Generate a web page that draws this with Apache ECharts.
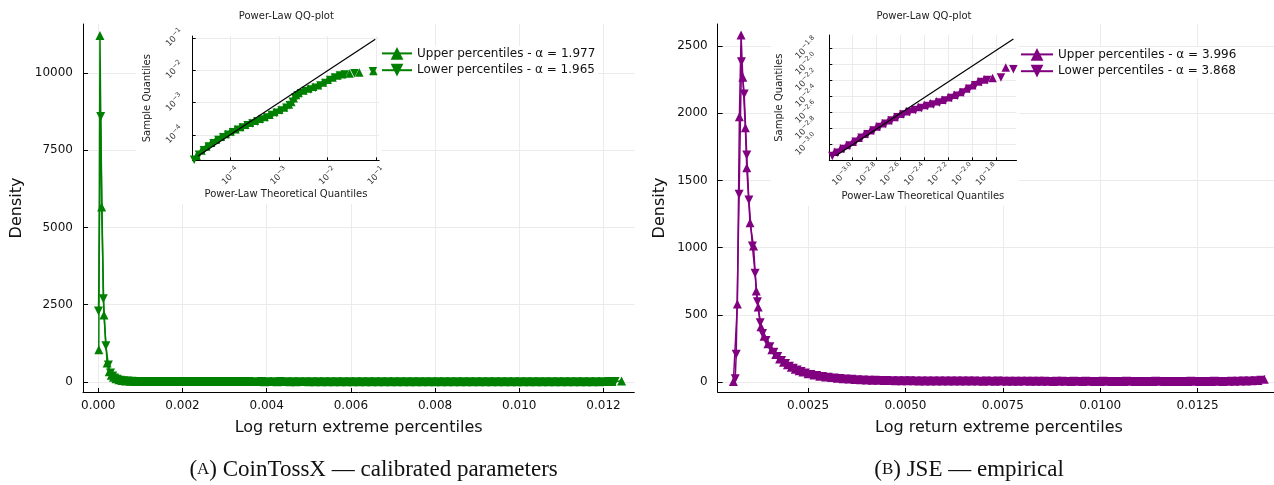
<!DOCTYPE html>
<html>
<head>
<meta charset="utf-8">
<title>Extreme percentiles density</title>
<script src="https://cdn.jsdelivr.net/npm/echarts@6/dist/echarts.min.js"></script>
<style>
  html, body { margin: 0; padding: 0; background: #fff; }
  #chart { width: 1274px; height: 485px; }
</style>
</head>
<body>
<div id="chart"></div>
<script>
// ---- left panel: CoinTossX, density of extreme percentiles
const leftUpperX = [0.000012, 0.00004, 0.00008, 0.000135, 0.00021, 0.00026, 0.00031, 0.00036, 0.00042, 0.00049, 0.00056, 0.00065, 0.00075, 0.00086, 0.00097,
  0.0011, 0.00125, 0.0014, 0.00155, 0.0017, 0.00185, 0.002, 0.00215, 0.0023, 0.00245,
  0.0026, 0.00275, 0.0029, 0.00305, 0.0032, 0.00335, 0.0035, 0.00365, 0.0038, 0.00395,
  0.0041, 0.00425, 0.0044, 0.00455, 0.0047, 0.00485, 0.005, 0.00515, 0.0053, 0.00545,
  0.0056, 0.00575, 0.0059, 0.00605, 0.0062, 0.00635, 0.0065, 0.00665, 0.0068, 0.00695,
  0.0071, 0.00725, 0.0074, 0.00755, 0.0077, 0.00785, 0.008, 0.00815, 0.0083, 0.00845,
  0.0086, 0.00875, 0.0089, 0.00905, 0.0092, 0.00935, 0.0095, 0.00965, 0.0098, 0.00995,
  0.0101, 0.01025, 0.0104, 0.01055, 0.0107, 0.01085, 0.011, 0.01115, 0.0113, 0.01145,
  0.0116, 0.01175, 0.0119, 0.01205, 0.0122, 0.01243]
const leftUpperY = [1040, 11210, 5660, 2170, 615, 330, 215, 150, 105, 70, 45, 30, 22, 18, 17,
  16, 15, 15, 14, 15, 14, 14, 13, 14, 13,
  13, 13, 12, 13, 12, 12, 13, 12, 12, 11,
  12, 11, 12, 11, 11, 12, 11, 11, 10, 11,
  11, 10, 11, 10, 10, 11, 10, 10, 11, 10,
  10, 10, 9, 10, 10, 9, 10, 10, 9, 10,
  9, 9, 10, 9, 9, 10, 9, 9, 10, 9,
  9, 10, 9, 9, 10, 9, 9, 10, 9, 10,
  10, 11, 11, 13, 18, 35]
const leftLowerX = [0.000005, 0.000057, 0.00012, 0.00018, 0.00024, 0.00029, 0.00034, 0.00039, 0.00045, 0.00052, 0.0006, 0.0007, 0.0008, 0.00092, 0.00104,
  0.001175, 0.001325, 0.001475, 0.001625, 0.001775, 0.001925, 0.002075, 0.002225, 0.002375, 0.002525,
  0.002675, 0.002825, 0.002975, 0.003125, 0.003275, 0.003425, 0.003575, 0.003725, 0.003875, 0.004025,
  0.004175, 0.004325, 0.004475, 0.004625, 0.004775, 0.004925, 0.005075, 0.005225, 0.005375, 0.005525,
  0.005675, 0.005825, 0.005975, 0.006125, 0.006275, 0.006425, 0.006575, 0.006725, 0.006875, 0.007025,
  0.007175, 0.007325, 0.007475, 0.007625, 0.007775, 0.007925, 0.008075, 0.008225, 0.008375, 0.008525,
  0.008675, 0.008825, 0.008975, 0.009125, 0.009275, 0.009425, 0.009575, 0.009725, 0.009875, 0.010025,
  0.010175, 0.010325, 0.010475, 0.010625, 0.010775, 0.010925, 0.011075, 0.011225, 0.011375, 0.011525,
  0.011675, 0.011825, 0.011975, 0.012125, 0.012275]
const leftLowerY = [2300, 8590, 2690, 1175, 550, 290, 190, 130, 90, 60, 40, 28, 20, 17, 16,
  16, 15, 15, 14, 14, 14, 13, 14, 13, 13,
  12, 13, 12, 12, 12, 13, 12, 11, 12, 11,
  11, 12, 11, 11, 11, 10, 11, 11, 10, 11,
  10, 10, 11, 10, 10, 10, 9, 10, 10, 10,
  9, 10, 10, 9, 10, 9, 9, 10, 9, 10,
  9, 9, 9, 10, 9, 9, 10, 9, 9, 9,
  10, 9, 9, 10, 9, 9, 9, 10, 9, 10,
  10, 10, 11, 12, 16]

// ---- right panel: JSE empirical
const rightUpperX = [0.000583, 0.000685, 0.000737, 0.00078, 0.000824, 0.00089, 0.000926, 0.00101, 0.0011, 0.00117, 0.00122, 0.00129,
  0.00137, 0.00147, 0.00157, 0.00167, 0.00177, 0.00187, 0.00197, 0.00207, 0.00217, 0.00227, 0.00237, 0.0025, 0.00265, 0.0028,
  0.00295, 0.0031, 0.00325, 0.0034, 0.00355, 0.0037, 0.00385, 0.004, 0.00415, 0.0043, 0.00445, 0.0046, 0.00475,
  0.0049, 0.00505, 0.0052, 0.00535, 0.0055, 0.00565, 0.0058, 0.00595, 0.0061, 0.00625,
  0.0064, 0.00655, 0.0067, 0.00685, 0.007, 0.00715, 0.0073, 0.00745, 0.0076, 0.00775,
  0.0079, 0.00805, 0.0082, 0.00835, 0.0085, 0.00865, 0.0088, 0.00895, 0.0091, 0.00925,
  0.0094, 0.00955, 0.0097, 0.00985, 0.01, 0.01015, 0.0103, 0.01045, 0.0106, 0.01075,
  0.0109, 0.01105, 0.0112, 0.01135, 0.0115, 0.01165, 0.0118, 0.01195, 0.0121, 0.01225,
  0.0124, 0.01255, 0.0127, 0.01285, 0.013, 0.01315, 0.0133, 0.01345, 0.0136, 0.01375,
  0.0139, 0.01405, 0.01421]
const rightUpperY = [5, 580, 1974, 2582, 2267, 1892, 1594, 1185, 1012, 677, 558, 411,
  340, 285, 240, 205, 172, 148, 128, 110, 96, 84, 74, 62, 52, 44,
  38, 33, 29, 25, 22, 19, 17, 15, 14, 13, 12, 11, 10,
  9, 9, 9, 8, 8, 8, 8, 7, 8, 7,
  7, 7, 7, 7, 6, 7, 6, 7, 6, 6,
  6, 7, 6, 6, 6, 6, 5, 6, 6, 5,
  6, 5, 6, 5, 5, 6, 5, 5, 5, 6,
  5, 5, 5, 5, 6, 5, 5, 5, 5, 5,
  6, 5, 5, 5, 6, 5, 6, 6, 7, 8,
  9, 12, 20]
const rightLowerX = [0.00063, 0.000655, 0.00073, 0.00079, 0.00086, 0.000926, 0.00098, 0.00107, 0.00114, 0.0012, 0.00127, 0.00133,
  0.00142, 0.00152, 0.00162, 0.00172, 0.00182, 0.00192, 0.00202, 0.00212, 0.00222, 0.00232, 0.00243, 0.00257, 0.00272, 0.00287,
  0.00302, 0.00317, 0.00332, 0.00347, 0.00362, 0.00377, 0.00392, 0.00407, 0.00422, 0.00437, 0.00452, 0.00467, 0.00482,
  0.004975, 0.005125, 0.005275, 0.005425, 0.005575, 0.005725, 0.005875, 0.006025, 0.006175, 0.006325,
  0.006475, 0.006625, 0.006775, 0.006925, 0.007075, 0.007225, 0.007375, 0.007525, 0.007675, 0.007825,
  0.007975, 0.008125, 0.008275, 0.008425, 0.008575, 0.008725, 0.008875, 0.009025, 0.009175, 0.009325,
  0.009475, 0.009625, 0.009775, 0.009925, 0.010075, 0.010225, 0.010375, 0.010525, 0.010675, 0.010825,
  0.010975, 0.011125, 0.011275, 0.011425, 0.011575, 0.011725, 0.011875, 0.012025, 0.012175, 0.012325,
  0.012475, 0.012625, 0.012775, 0.012925, 0.013075, 0.013225, 0.013375, 0.013525, 0.013675, 0.013825,
  0.013975, 0.014125]
const rightLowerY = [25, 206, 1397, 2383, 2143, 1689, 1354, 1012, 809, 597, 441, 362,
  310, 262, 222, 190, 160, 138, 118, 103, 90, 79, 68, 57, 48, 41,
  35, 31, 27, 23, 20, 18, 16, 14, 13, 12, 11, 10, 10,
  9, 9, 8, 8, 8, 8, 7, 8, 7, 7,
  7, 7, 7, 6, 7, 6, 7, 6, 6, 6,
  6, 6, 6, 6, 6, 5, 6, 6, 5, 6,
  5, 6, 5, 5, 6, 5, 5, 5, 6, 5,
  5, 5, 5, 6, 5, 5, 5, 5, 5, 6,
  5, 5, 5, 6, 5, 5, 6, 6, 7, 8,
  10, 14]

// ---- QQ insets, log10 of quantiles
const qqLeftUpperX = [-4.70, -4.60, -4.50, -4.40, -4.30, -4.20, -4.10, -4.00, -3.90, -3.80, -3.70, -3.60, -3.50, -3.40, -3.30, -3.20, -3.10, -3.00,
  -2.90, -2.80, -2.75, -2.70, -2.65, -2.60, -2.50, -2.40, -2.30, -2.20, -2.10, -2.00, -1.90, -1.80, -1.70, -1.55, -1.35, -1.06]
const qqLeftUpperY = [-4.64, -4.48, -4.35, -4.24, -4.14, -4.05, -3.97, -3.89, -3.82, -3.75, -3.68, -3.62, -3.56, -3.50, -3.44, -3.37, -3.29, -3.22,
  -3.15, -3.06, -2.98, -2.86, -2.76, -2.70, -2.62, -2.56, -2.51, -2.46, -2.38, -2.29, -2.22, -2.16, -2.12, -2.10, -2.07, -2.02]
const qqLeftLowerX = [-4.75, -4.65, -4.55, -4.45, -4.35, -4.25, -4.15, -4.05, -3.95, -3.85, -3.75, -3.65, -3.55, -3.45, -3.35, -3.25, -3.15, -3.05,
  -2.95, -2.85, -2.78, -2.72, -2.67, -2.62, -2.55, -2.45, -2.35, -2.25, -2.15, -2.05, -1.95, -1.85, -1.75, -1.65, -1.45, -1.07]
const qqLeftLowerY = [-4.76, -4.61, -4.47, -4.35, -4.25, -4.15, -4.07, -3.99, -3.91, -3.84, -3.77, -3.70, -3.64, -3.58, -3.52, -3.46, -3.38, -3.31,
  -3.24, -3.16, -3.08, -2.97, -2.85, -2.78, -2.71, -2.64, -2.59, -2.54, -2.47, -2.39, -2.30, -2.22, -2.16, -2.13, -2.09, -2.03]
const qqLeftLineX = [-4.67, -1.02]
const qqLeftLineY = [-4.65, -1.04]

const qqRightUpperX = [-3.15, -3.10, -3.05, -3.00, -2.95, -2.90, -2.85, -2.80, -2.75, -2.70, -2.65, -2.60, -2.55, -2.50, -2.45, -2.40,
  -2.35, -2.30, -2.25, -2.20, -2.15, -2.10, -2.05, -2.00, -1.95, -1.90, -1.83, -1.72]
const qqRightUpperY = [-3.09, -3.045, -3.005, -2.965, -2.915, -2.865, -2.82, -2.775, -2.735, -2.695, -2.655, -2.615, -2.585, -2.555, -2.53, -2.505,
  -2.485, -2.46, -2.44, -2.41, -2.38, -2.345, -2.30, -2.26, -2.215, -2.19, -2.17, -2.04]
const qqRightLowerX = [-3.17, -3.125, -3.075, -3.025, -2.975, -2.925, -2.875, -2.825, -2.775, -2.725, -2.675, -2.625, -2.575, -2.525, -2.475,
  -2.425, -2.375, -2.325, -2.275, -2.225, -2.175, -2.125, -2.075, -2.025, -1.975, -1.925, -1.875, -1.76, -1.656]
const qqRightLowerY = [-3.14, -3.10, -3.055, -3.01, -2.965, -2.915, -2.87, -2.825, -2.78, -2.74, -2.70, -2.66, -2.625, -2.595, -2.57,
  -2.545, -2.52, -2.50, -2.475, -2.45, -2.42, -2.39, -2.35, -2.305, -2.26, -2.22, -2.195, -2.165, -2.06]
const qqRightLineX = [-3.14, -1.656]
const qqRightLineY = [-3.137, -1.684]

// ---- ticks
const leftXTicks = [0, 0.002, 0.004, 0.006, 0.008, 0.010, 0.012]
const leftYTicks = [0, 2500, 5000, 7500, 10000]
const rightXTicks = [0.0025, 0.005, 0.0075, 0.01, 0.0125]
const rightYTicks = [0, 500, 1000, 1500, 2000, 2500]
const qqLeftTicks = [-4, -3, -2, -1]
const qqRightTicks = [-3.0, -2.8, -2.6, -2.4, -2.2, -2.0, -1.8]

const leftNames = ['Upper percentiles - α = 1.977', 'Lower percentiles - α = 1.965']
const rightNames = ['Upper percentiles - α = 3.996', 'Lower percentiles - α = 3.868']

const FONT = 'DejaVu Sans'
const GREEN = '#008000'
const PURPLE = '#800080'
const GRID_LINE = '#ebebeb'

const zip = (xs, ys) => xs.map((x, i) => [x, ys[i]])

function mainX(gridIndex, min, max, ticks, digits) {
  return {
    type: 'value', gridIndex, min, max,
    name: 'Log return extreme percentiles', nameLocation: 'middle', nameGap: 28,
    nameTextStyle: { fontSize: 16, color: '#111', fontFamily: FONT },
    axisLine: { onZero: false, lineStyle: { color: '#000', width: 1 } },
    axisTick: { inside: true, length: 4, customValues: ticks, lineStyle: { color: '#000' } },
    axisLabel: { customValues: ticks, margin: 8, fontSize: 12, color: '#111', fontFamily: FONT,
      formatter: v => v.toFixed(digits) },
    splitLine: { show: true, lineStyle: { color: GRID_LINE, width: 1 } }
  }
}

function mainY(gridIndex, min, max, ticks, nameGap) {
  return {
    type: 'value', gridIndex, min, max,
    name: 'Density', nameLocation: 'middle', nameGap,
    nameTextStyle: { fontSize: 16, color: '#111', fontFamily: FONT },
    axisLine: { show: true, onZero: false, lineStyle: { color: '#000', width: 1 } },
    axisTick: { show: true, inside: true, length: 5, customValues: ticks, lineStyle: { color: '#000' } },
    axisLabel: { customValues: ticks, margin: 10, fontSize: 12, color: '#111', fontFamily: FONT,
      formatter: v => String(Math.round(v)) },
    splitLine: { show: true, lineStyle: { color: GRID_LINE, width: 1 } }
  }
}

function supLabel(digits) {
  return v => '{b|10}{s|' + (v < 0 ? '−' : '') + Math.abs(v).toFixed(digits) + '}'
}
const supRich = {
  b: { fontSize: 8.5, lineHeight: 13, color: '#333', fontFamily: FONT },
  s: { fontSize: 6.5, lineHeight: 8, verticalAlign: 'top', color: '#333', fontFamily: FONT }
}

function qqAxis(gridIndex, min, max, ticks, digits, label, name, nameGap) {
  return {
    type: 'value', gridIndex, min, max, z: 5,
    name, nameLocation: 'middle', nameGap,
    nameTextStyle: { fontSize: 10, color: '#222', fontFamily: FONT },
    axisLine: { show: true, onZero: false, lineStyle: { color: '#000', width: 1 } },
    axisTick: { show: true, inside: true, length: 3, customValues: ticks, lineStyle: { color: '#000' } },
    axisLabel: Object.assign({ customValues: ticks, rotate: 45, formatter: supLabel(digits), rich: supRich }, label),
    splitLine: { show: true, lineStyle: { color: GRID_LINE, width: 1 } }
  }
}

function mainSeries(name, xs, ys, color, axis, down) {
  return {
    name, type: 'line', xAxisIndex: axis, yAxisIndex: axis,
    data: zip(xs, ys),
    symbol: 'triangle', symbolSize: 9, symbolRotate: down ? 180 : 0,
    lineStyle: { color, width: 1.5 }, itemStyle: { color },
    emphasis: { disabled: true }, silent: true, z: 2
  }
}

function qqSeries(name, xs, ys, color, axis, down) {
  return {
    name, type: 'scatter', xAxisIndex: axis, yAxisIndex: axis,
    data: zip(xs, ys),
    symbol: 'triangle', symbolSize: 8.5, symbolRotate: down ? 180 : 0,
    itemStyle: { color, opacity: 1 }, emphasis: { disabled: true }, silent: true, z: 6
  }
}

function qqLine(name, xs, ys, axis) {
  return {
    name, type: 'line', xAxisIndex: axis, yAxisIndex: axis,
    data: zip(xs, ys), symbol: 'none',
    lineStyle: { color: '#000', width: 1.2 }, silent: true, z: 7
  }
}

function legend(names, left, top, itemWidth) {
  return {
    data: names, orient: 'vertical', left, top, itemWidth, itemHeight: 16, itemGap: 4,
    padding: [1, 3, 1, 2], backgroundColor: '#fff', selectedMode: false,
    textStyle: { fontSize: 12, color: '#111', fontFamily: FONT }
  }
}

const capRich = {
  a: { fontSize: 23, fontFamily: 'Liberation Serif', fill: '#111', color: '#111' },
  c: { fontSize: 17, fontFamily: 'Liberation Serif', fill: '#111', color: '#111' }
}

const option = {
  animation: false,
  backgroundColor: '#fff',
  grid: [
    { left: 83, top: 24, width: 551.3, height: 368, containLabel: false, outerBoundsMode: 'none' },
    { left: 717.7, top: 24, width: 562.5, height: 368, containLabel: false, outerBoundsMode: 'none' },
    { left: 192.7, top: 36, width: 186.5, height: 124.3, containLabel: false, outerBoundsMode: 'none', z: 5 },
    { left: 829.3, top: 35, width: 187.2, height: 125.3, containLabel: false, outerBoundsMode: 'none', z: 5 }
  ],
  xAxis: [
    mainX(0, -0.000363, 0.012732, leftXTicks, 3),
    mainX(1, 0.00018, 0.01462, rightXTicks, 4),
    qqAxis(2, -4.78, -0.94, qqLeftTicks, 0, { align: 'center', verticalAlign: 'middle', margin: 16 },
      'Power-Law Theoretical Quantiles', 28),
    qqAxis(3, -3.195, -1.63, qqRightTicks, 1, { align: 'right', verticalAlign: 'middle', margin: 5 },
      'Power-Law Theoretical Quantiles', 31)
  ],
  yAxis: [
    mainY(0, -324, 11586, leftYTicks, 58),
    mainY(1, -74, 2664, rightYTicks, 50),
    qqAxis(2, -4.78, -0.94, qqLeftTicks, 0, { align: 'center', verticalAlign: 'middle', margin: 18 },
      'Sample Quantiles', 40),
    qqAxis(3, -3.195, -1.635, qqRightTicks, 1, { align: 'center', verticalAlign: 'middle', margin: 23 },
      'Sample Quantiles', 45)
  ],
  legend: [
    legend(leftNames, 379, 46, 30),
    legend(rightNames, 1018, 47, 32)
  ],
  graphic: [
    // white panels behind the insets
    { type: 'rect', shape: { x: 136, y: 24, width: 246, height: 180 }, style: { fill: '#fff' }, z: 3, silent: true },
    { type: 'rect', shape: { x: 771, y: 24, width: 248, height: 182 }, style: { fill: '#fff' }, z: 3, silent: true },
    { type: 'text', x: 286.3, y: 16, z: 8, silent: true,
      style: { text: 'Power-Law QQ-plot', fontSize: 10, fontFamily: FONT, fill: '#222', align: 'center', verticalAlign: 'middle' } },
    { type: 'text', x: 924, y: 16, z: 8, silent: true,
      style: { text: 'Power-Law QQ-plot', fontSize: 10, fontFamily: FONT, fill: '#222', align: 'center', verticalAlign: 'middle' } },
    { type: 'text', x: 373.6, y: 470, silent: true,
      style: { text: '{a|(}{c|A}{a|) CoinTossX — calibrated parameters}', rich: capRich, align: 'center', verticalAlign: 'middle' } },
    { type: 'text', x: 969, y: 470, silent: true,
      style: { text: '{a|(}{c|B}{a|) JSE — empirical}', rich: capRich, align: 'center', verticalAlign: 'middle' } }
  ],
  series: [
    mainSeries(leftNames[0], leftUpperX, leftUpperY, GREEN, 0, false),
    mainSeries(leftNames[1], leftLowerX, leftLowerY, GREEN, 0, true),
    mainSeries(rightNames[0], rightUpperX, rightUpperY, PURPLE, 1, false),
    mainSeries(rightNames[1], rightLowerX, rightLowerY, PURPLE, 1, true),
    qqSeries('qq-left-upper', qqLeftUpperX, qqLeftUpperY, GREEN, 2, false),
    qqSeries('qq-left-lower', qqLeftLowerX, qqLeftLowerY, GREEN, 2, true),
    qqLine('qq-left-line', qqLeftLineX, qqLeftLineY, 2),
    qqSeries('qq-right-upper', qqRightUpperX, qqRightUpperY, PURPLE, 3, false),
    qqSeries('qq-right-lower', qqRightLowerX, qqRightLowerY, PURPLE, 3, true),
    qqLine('qq-right-line', qqRightLineX, qqRightLineY, 3)
  ]
}

const chart = echarts.init(document.getElementById('chart'), null, { renderer: 'canvas' })
chart.setOption(option)
window.addEventListener('resize', () => chart.resize())
</script>
</body>
</html>
